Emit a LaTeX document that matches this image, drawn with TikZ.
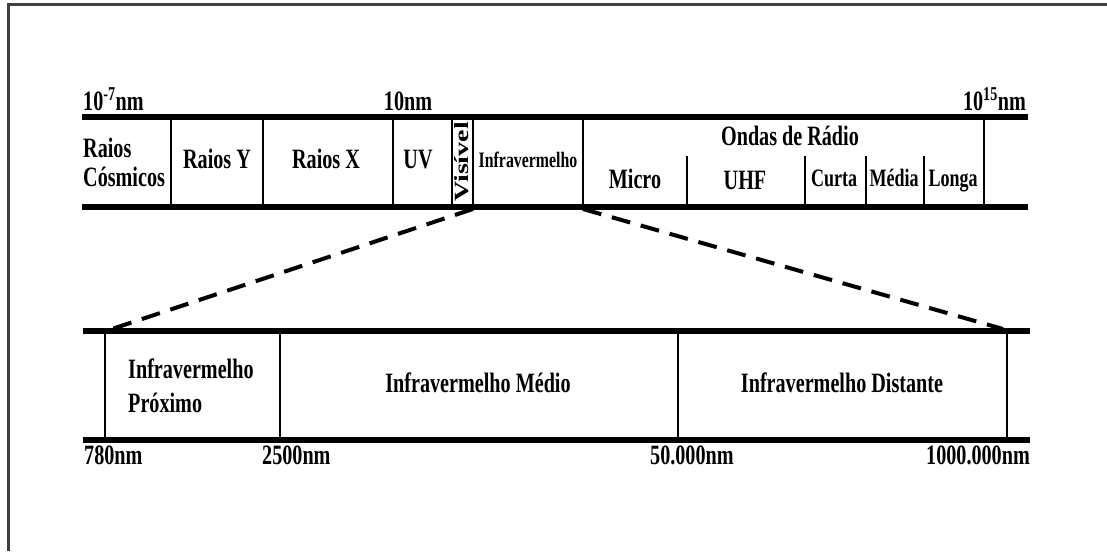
\documentclass[tikz,border=0pt]{standalone}
\usepackage{fontspec}
\setmainfont{Liberation Serif}[FakeStretch=0.72]
\newfontfamily\uprightfont{Liberation Serif}

\begin{document}
\begin{tikzpicture}[
    x=1pt, y=-1pt,
    font=\bfseries\fontsize{28}{29}\selectfont,
    band/.style={line width=6pt},
    sep/.style={line width=2.5pt},
    lbl/.style={inner sep=0pt, anchor=base},
    small/.style={lbl, font=\bfseries\fontsize{25}{28}\selectfont},
    zoomline/.style={line width=4pt, dash pattern=on 19pt off 11pt}
]
\useasboundingbox (0,0) rectangle (1107,551);
\draw[line width=3pt, black!75] (8.5,551) -- (8.5,5) -- (1107,5);

% spectro completo
\draw[band] (82,117) -- (1028,117);
\draw[band] (82,207) -- (1028,207);
\foreach \x in {171,263,393,452,473,583,984}
    \draw[sep] (\x,117) -- (\x,207);
\foreach \x in {687,805,866,924}
    \draw[sep] (\x,156) -- (\x,207);

\node[lbl, anchor=base west] (min) at (83,110) {10\textsuperscript{-7}nm};
\node[lbl] (mid) at (408,110) {10nm};
\node[lbl, anchor=base east] (max) at (1026,110) {10\textsuperscript{15}nm};

\node[inner sep=0pt, anchor=west, align=left] (cosm) at (83,162) {Raios\\Cósmicos};
\node[lbl] (gama) at (217,168) {Raios Y};
\node[lbl] (raiox) at (326,168) {Raios X};
\node[lbl] (uv) at (418,168) {UV};
\node[inner sep=0pt, rotate=90] (vis) at (462,162) {\uprightfont\bfseries\scalebox{1}[0.72]{Visível}};
\node[lbl, font=\bfseries\fontsize{22}{24}\selectfont] (infra) at (528,167) {Infravermelho};
\node[lbl] (radio) at (790,145) {Ondas de Rádio};
\node[lbl] (micro) at (635,188) {Micro};
\node[lbl] (uhf) at (745,189) {UHF};
\node[small] (curta) at (834,186) {Curta};
\node[small] (media) at (894,186) {Média};
\node[small] (longa) at (953,186) {Longa};

% detalhe do infravermelho
\draw[band] (83,331) -- (1030,331);
\draw[band] (83,440) -- (1030,440);
\foreach \x in {105,280,678,1007}
    \draw[sep] (\x,331) -- (\x,440);

\node[inner sep=0pt, anchor=west, align=left, font=\bfseries\fontsize{28}{34}\selectfont] (prox) at (128,386) {Infravermelho\\Próximo};
\node[lbl] (medio) at (478,392) {Infravermelho Médio};
\node[lbl] (dist) at (842,392) {Infravermelho Distante};

\node[lbl, anchor=base west] (l780) at (84,464) {780nm};
\node[lbl, anchor=base west] (l2500) at (262,464) {2500nm};
\node[lbl, anchor=base west] (l50k) at (650,464) {50.000nm};
\node[lbl, anchor=base east] (l1M) at (1030,464) {1000.000nm};

\coordinate (ira) at (473,209);
\coordinate (irb) at (583,209);
\coordinate (pa) at (112,329);
\coordinate (pb) at (1003,329);
\draw[zoomline] (ira) -- (pa);
\draw[zoomline] (irb) -- (pb);
\end{tikzpicture}
\end{document}
